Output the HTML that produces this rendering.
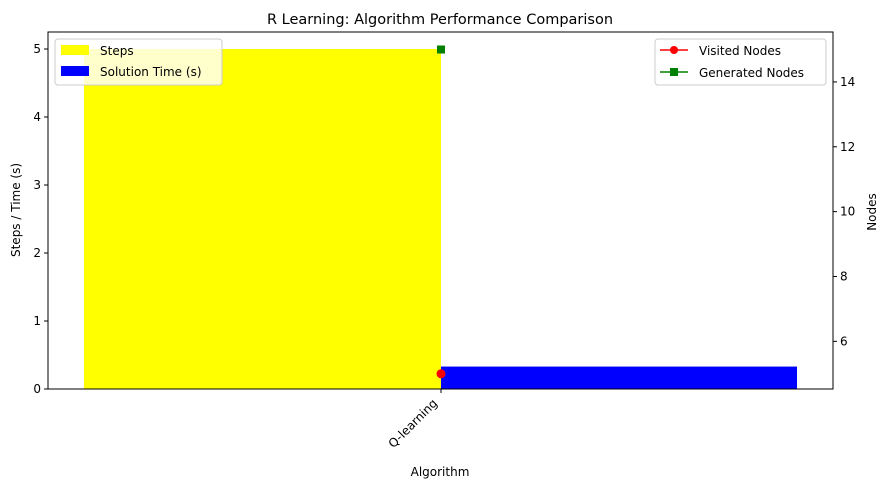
<!DOCTYPE html>
<html><head><meta charset="utf-8"><style>
body{margin:0;background:#fff;font-family:"Liberation Sans","DejaVu Sans",sans-serif;}
svg text{font-family:"DejaVu Sans","Liberation Sans",sans-serif;}
</style></head><body>
<svg id="chart" width="890" height="490" xmlns="http://www.w3.org/2000/svg"></svg>
<script>
const categories = ["Q-learning"];
const steps = [5];
const times = [0.33];
const visited = [5];
const generated = [15];
const leftTicks = [0,1,2,3,4,5];
const rightTicks = [6,8,10,12,14];

const L=48,R=833,T=32,B=389;
const yL=v=>B-(v/5.25)*(B-T);
const yR=v=>B-(v-4.53)/(15.54-4.53)*(B-T);
const xC=i=>441+i*100;
const bw=357;
const svg=document.getElementById('chart');
const NS='http://www.w3.org/2000/svg';
function mk(tag,attrs,text){const e=document.createElementNS(NS,tag);for(const k in attrs)e.setAttribute(k,attrs[k]);if(text!==undefined)e.textContent=text;svg.appendChild(e);return e;}

categories.forEach((c,i)=>{
  let b=mk('rect',{x:xC(i)-bw,y:yL(steps[i]),width:bw,height:B-yL(steps[i]),fill:'#ffff00'});
  
  
  let b2=mk('rect',{x:xC(i),y:yL(times[i]),width:bw-1,height:B-yL(times[i]),fill:'#0000ff'});
  
  
  let p1=mk('circle',{cx:xC(i),cy:yR(visited[i]),r:4.5,fill:'#ff0000'});
  
  
  let p2=mk('rect',{x:xC(i)-4,y:yR(generated[i])-4,width:8,height:8,fill:'#008000'});
  
  
  mk('line',{x1:xC(i),x2:xC(i),y1:B,y2:B+4,stroke:'#000'});
  let t=mk('text',{x:xC(i)-3,y:B+15,'font-size':12,'text-anchor':'end',transform:`rotate(-45 ${xC(i)-3} ${B+15})`},c);
  
  
});
mk('rect',{x:L,y:T,width:R-L,height:B-T,fill:'none',stroke:'#000','stroke-width':1});
leftTicks.forEach(v=>{
  mk('line',{x1:L-4,x2:L,y1:yL(v),y2:yL(v),stroke:'#000'});
  let t=mk('text',{x:L-7,y:yL(v)+4,'font-size':12,'text-anchor':'end'},String(v));
  
  
});
rightTicks.forEach(v=>{
  mk('line',{x1:R,x2:R+4,y1:yR(v),y2:yR(v),stroke:'#000'});
  let t=mk('text',{x:R+7,y:yR(v)+4,'font-size':12},String(v));
  
  
});
</script>
<svg width="890" height="490" style="position:absolute;left:0;top:0" xmlns="http://www.w3.org/2000/svg">
<text x="440" y="24" font-size="14.5" text-anchor="middle">R Learning: Algorithm Performance Comparison</text>
<text x="440" y="476" font-size="12" text-anchor="middle">Algorithm</text>
<text x="20" y="210" font-size="12" text-anchor="middle" transform="rotate(-90 20 210)">Steps / Time (s)</text>
<text x="876" y="212" font-size="12" text-anchor="middle" transform="rotate(-90 876 212)">Nodes</text>
<g>
<rect x="55" y="39" width="167" height="46" rx="3" fill="#fff" fill-opacity="0.8" stroke="#ccc"/>
<rect x="61" y="45" width="28" height="10" fill="#ffff00"/>
<text x="100" y="55" font-size="12">Steps</text>
<rect x="61" y="66" width="28" height="10" fill="#0000ff"/>
<text x="100" y="76" font-size="12">Solution Time (s)</text>
</g>
<g>
<rect x="655" y="39" width="171" height="46" rx="3" fill="#fff" fill-opacity="0.8" stroke="#ccc"/>
<line x1="660" x2="688" y1="50" y2="50" stroke="#ff0000" stroke-width="1.5"/>
<circle cx="674" cy="50" r="4" fill="#ff0000"/>
<text x="699" y="55" font-size="12">Visited Nodes</text>
<line x1="660" x2="688" y1="72" y2="72" stroke="#008000" stroke-width="1.5"/>
<rect x="670" y="68" width="8" height="8" fill="#008000"/>
<text x="699" y="77" font-size="12">Generated Nodes</text>
</g>
</svg>
</body></html>
